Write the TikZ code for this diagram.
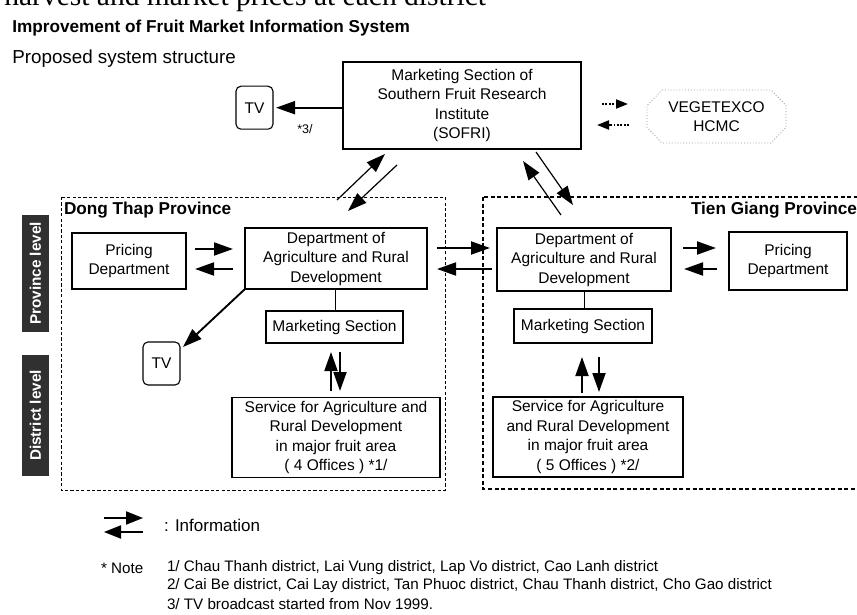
\documentclass[tikz,border=0pt]{standalone}
\usepackage{fontspec}
\setmainfont{Liberation Sans}
\newfontfamily\bodyserif{Liberation Serif}
\usetikzlibrary{arrows.meta}
\definecolor{levelgrey}{HTML}{303030}
\definecolor{vegline}{HTML}{9A9A9A}
\begin{document}
\begin{tikzpicture}[x=1pt, y=-1pt,
  every node/.style={inner sep=0pt, outer sep=0pt},
  txt/.style={font=\fontsize{15.5}{19.5}\selectfont, align=center},
  unit/.style={txt, draw, line width=1.1pt},
  section/.style={txt, draw, line width=2.2pt},
  tvbox/.style={txt, draw, line width=1.1pt, rounded corners=5pt, minimum width=37pt, minimum height=43pt},
  levelbox/.style={fill=levelgrey, text=white, font=\bfseries\fontsize{15.3}{18}\selectfont, rotate=90, minimum height=27pt},
  info/.style={line width=1.9pt, -{Triangle[length=19pt,width=13pt]}},
  trade/.style={line width=1.8pt, dash pattern=on 1.8pt off 1.6pt, -{Triangle[length=12pt,width=9pt]}},
  thinframe/.style={line width=0.9pt, dash pattern=on 3.2pt off 2.2pt},
  boldframe/.style={line width=1.7pt, dash pattern=on 4pt off 2.6pt},
  note/.style={font=\fontsize{15.2}{18}\selectfont, anchor=west}
]
\useasboundingbox (0,0) rectangle (857,615);
\clip (0,0) rectangle (857,615);

% line of running text above the figure
\node[anchor=base east, font=\bodyserif\fontsize{29.5}{30}\selectfont] (runin) at (486,5.5) {harvest and market prices at each district};

% headings
\node[anchor=base west, font=\bfseries\fontsize{17.2}{20}\selectfont] (title) at (12.3,32.3) {Improvement of Fruit Market Information System};
\node[anchor=base west, font=\fontsize{18.8}{21}\selectfont] (subtitle) at (12.3,63.3) {Proposed system structure};

% province frames
\draw[thinframe] (61,197) rectangle (445,490);
\draw[boldframe] (483,197) rectangle (880,489);
\node[anchor=base west, font=\bfseries\fontsize{17.2}{20}\selectfont] (dtlabel) at (64,214) {Dong Thap Province};
\node[anchor=base east, font=\bfseries\fontsize{17.2}{20}\selectfont] (tglabel) at (857,214) {Tien Giang Province};

% level tags
\node[levelbox, minimum width=117pt] (provlevel) at (35.5,273.5) {Province level};
\node[levelbox, minimum width=121pt] (distlevel) at (35.5,415.5) {District level};

% institute and external partner
\node[unit, minimum width=238pt, minimum height=87pt] (sofri) at (462,105.5)
  {Marketing Section of\\Southern Fruit Research\\Institute\\(SOFRI)};
\node[tvbox] (tvtop) at (254.5,107.7) {TV};
\node[font=\fontsize{12.5}{14}\selectfont] (fn3) at (305,129.5) {*3/};
\node[txt] (veg) at (716.5,116.5) {VEGETEXCO\\HCMC};
\draw[vegline, line width=0.9pt, dotted]
  (662,90) -- (771,90) -- (786,105.5) -- (786,127.5) -- (771,143) -- (662,143) -- (647,127.5) -- (647,105.5) -- cycle;

% Dong Thap units
\node[unit, minimum width=114pt, minimum height=56pt] (pricingL) at (129,261) {Pricing\\Department};
\node[unit, minimum width=182pt, minimum height=61pt] (deptL) at (336,258.5) {Department of\\Agriculture and Rural\\Development};
\node[section, minimum width=137pt, minimum height=32pt] (mktL) at (334.5,327) {Marketing Section};
\node[tvbox] (tvL) at (161.5,363.5) {TV};
\node[unit, minimum width=208pt, minimum height=80pt] (servL) at (336,437.5)
  {Service for Agriculture and\\Rural Development\\in major fruit area\\( 4 Offices ) *1/};

% Tien Giang units
\node[unit, minimum width=174pt, minimum height=63pt] (deptR) at (584,259.5) {Department of\\Agriculture and Rural\\Development};
\node[unit, minimum width=118pt, minimum height=58pt] (pricingR) at (788,261) {Pricing\\Department};
\node[section, minimum width=138pt, minimum height=34pt] (mktR) at (583,326) {Marketing Section};
\node[unit, minimum width=190pt, minimum height=80pt] (servR) at (588,437)
  {Service for Agriculture\\and Rural Development\\in major fruit area\\( 5 Offices ) *2/};

% departments hold their marketing sections
\draw[line width=0.9pt] (deptL.south -| 335,0) -- (mktL.north -| 335,0);
\draw[line width=0.9pt] (deptR.south -| 584,0) -- (mktR.north -| 584,0);

% ends of the information arrows
\coordinate (pl1) at (195,249); \coordinate (pl2) at (233,249);
\coordinate (pl3) at (233,269); \coordinate (pl4) at (195,269);
\coordinate (dd1) at (437,248); \coordinate (dd2) at (490,248);
\coordinate (dd3) at (492,269); \coordinate (dd4) at (437,269);
\coordinate (pr1) at (683,248); \coordinate (pr2) at (716,248);
\coordinate (pr3) at (717,269); \coordinate (pr4) at (684,269);
\coordinate (sa1) at (337,200); \coordinate (sa2) at (385,154);
\coordinate (sb1) at (397,165); \coordinate (sb2) at (348,211);
\coordinate (sc1) at (561,215); \coordinate (sc2) at (523,161);
\coordinate (sd1) at (536,152); \coordinate (sd2) at (573,205);
\coordinate (ml1) at (331,391); \coordinate (ml2) at (331,352);
\coordinate (ml3) at (340,352); \coordinate (ml4) at (340,391);
\coordinate (mr1) at (582,393); \coordinate (mr2) at (582,357);
\coordinate (mr3) at (599,357); \coordinate (mr4) at (599,392);
\coordinate (va1) at (602,104); \coordinate (va2) at (628,104);
\coordinate (vb1) at (629,125); \coordinate (vb2) at (597,125);

% information flows
\draw[info] (sofri.west |- tvtop.east) -- ([xshift=3pt]tvtop.east);
\draw[info] (deptL.south west) -- ([xshift=3pt,yshift=-5pt]tvL.north east);
\draw[info] (pl1) -- (pl2);
\draw[info] (pl3) -- (pl4);
\draw[info] (dd1) -- (dd2);
\draw[info] (dd3) -- (dd4);
\draw[info] (pr1) -- (pr2);
\draw[info] (pr3) -- (pr4);
\draw[info, line width=1.2pt] (sa1) -- (sa2);
\draw[info, line width=1.2pt] (sb1) -- (sb2);
\draw[info, line width=1.2pt] (sc1) -- (sc2);
\draw[info, line width=1.2pt] (sd1) -- (sd2);
\draw[info] (ml1) -- (ml2);
\draw[info] (ml3) -- (ml4);
\draw[info] (mr1) -- (mr2);
\draw[info] (mr3) -- (mr4);
\draw[trade] (va1) -- (va2);
\draw[trade] (vb1) -- (vb2);

% legend
\coordinate (lg1) at (104,518); \coordinate (lg2) at (143,518);
\coordinate (lg3) at (143,532); \coordinate (lg4) at (104,532);
\draw[info, -{Triangle[length=17pt,width=13pt]}] (lg1) -- (lg2);
\draw[info, -{Triangle[length=17pt,width=13pt]}] (lg3) -- (lg4);
\node[anchor=west, font=\fontsize{17}{19}\selectfont] (legtext) at (164,525) {: Information};

% notes
\node[note] (notehead) at (101,568) {* Note};
\node[note] (note1) at (167,568) {1/ Chau Thanh district, Lai Vung district, Lap Vo district, Cao Lanh district};
\node[note] (note2) at (167,586) {2/ Cai Be district, Cai Lay district, Tan Phuoc district, Chau Thanh district, Cho Gao district};
\node[note] (note3) at (167,604) {3/ TV broadcast started from Nov 1999.};
\end{tikzpicture}
\end{document}
